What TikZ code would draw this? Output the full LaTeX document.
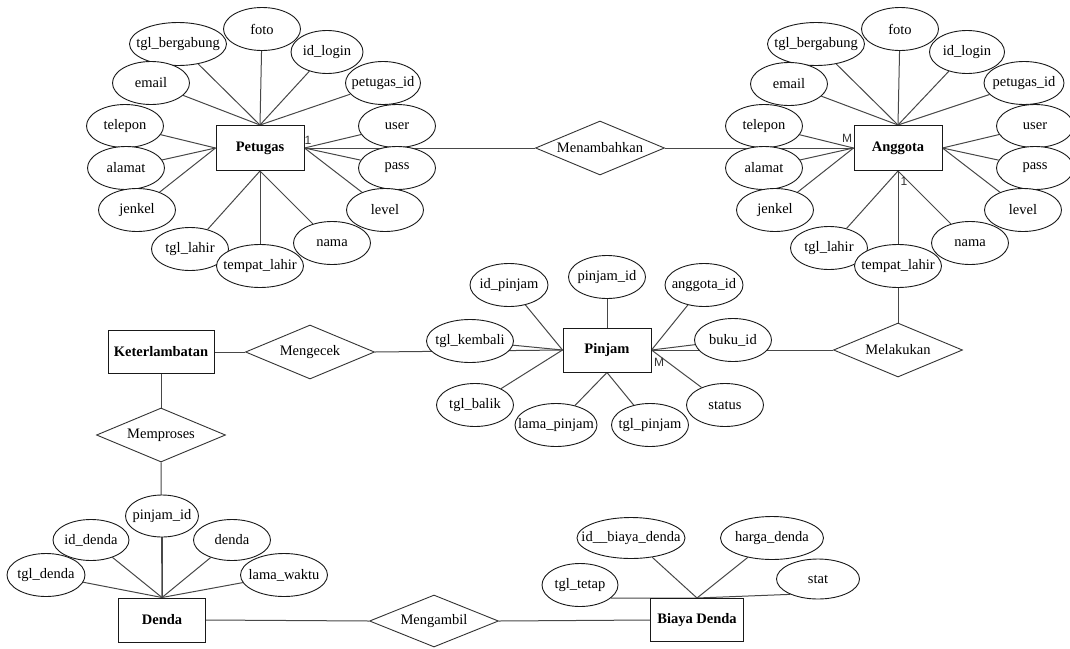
\documentclass[tikz,border=0pt]{standalone}
\usepackage{fontspec}
\setmainfont{Liberation Serif}
\newfontfamily\lblfont{Liberation Sans}
\usetikzlibrary{shapes.geometric,backgrounds}
\newcommand\zt[1]{\makebox[0pt]{#1}}
\begin{document}
\begin{tikzpicture}[x=1pt,y=-1pt,
  conn/.style={draw=black!72, line width=1pt},
  attr/.style={ellipse, draw=black!90, line width=0.9pt, fill=white, minimum height=43pt, minimum width=77pt, inner sep=0pt, font=\fontsize{14.5}{16}\selectfont},
  ent/.style={rectangle, draw=black!90, line width=1pt, fill=white, minimum height=45pt, inner sep=0pt, font=\fontsize{14.5}{16}\selectfont\bfseries},
  rel/.style={diamond, draw=black!80, line width=0.9pt, fill=white, minimum width=129pt, minimum height=54pt, inner sep=0pt, font=\fontsize{14.5}{16}\selectfont},
  card/.style={font=\lblfont\fontsize{12}{13}\selectfont, inner sep=0pt, text=black!80}]
\useasboundingbox (0,0) rectangle (1070,648);

% ---------- entities ----------
\node[ent, minimum width=88pt] (pet) at (260,148) {Petugas};
\node[ent, minimum width=88pt] (ang) at (898,148) {Anggota};
\node[ent, minimum width=88pt, minimum height=44pt] (pin) at (607,350) {Pinjam};
\node[ent, minimum width=106pt, minimum height=43pt] (ket) at (161,352) {Keterlambatan};
\node[ent, minimum width=87pt, minimum height=44pt] (den) at (162,620) {Denda};
\node[ent, minimum width=93pt, minimum height=43pt] (bia) at (697,620) {Biaya Denda};

% ---------- relationships ----------
\node[rel] (men) at (600,148) {\zt{Menambahkan}};
\node[rel] (cek) at (310,352) {\zt{Mengecek}};
\node[rel] (pro) at (161,435) {\zt{Memproses}};
\node[rel] (lak) at (898,350) {\zt{Melakukan}};
\node[rel, minimum height=52pt] (amb) at (434,621) {\zt{Mengambil}};

% ---------- Petugas attributes ----------
\node[attr, minimum width=97pt] (p2) at (178,44) {\zt{tgl\_bergabung}};
\node[attr] (p1) at (262,29) {\zt{foto}};
\node[attr, minimum width=72pt] (p3) at (327,52) {\zt{id\_login}};
\node[attr] (p4) at (151,83) {\zt{email}};
\node[attr, minimum width=75pt] (p5) at (383,83) {\zt{petugas\_id}};
\node[attr] (p6) at (125,126) {\zt{telepon}};
\node[attr] (p7) at (397,126) {\zt{user}};
\node[attr] (p8) at (126,168) {\zt{alamat}};
\node[attr] (p9) at (397,168) {\zt{pass}};
\node[attr] (p10) at (137,210) {\zt{jenkel}};
\node[attr] (p11) at (385,210) {\zt{level}};
\node[attr] (p12) at (190,249) {\zt{tgl\_lahir}};
\node[attr] (p13) at (332,243) {\zt{nama}};
\node[attr, minimum width=87pt] (p14) at (260,266) {\zt{tempat\_lahir}};

% ---------- Anggota attributes ----------
\node[attr, minimum width=97pt] (a2) at (816,44) {\zt{tgl\_bergabung}};
\node[attr] (a1) at (900,29) {\zt{foto}};
\node[attr, minimum width=75pt] (a3) at (967,52) {\zt{id\_login}};
\node[attr] (a4) at (789,84) {\zt{email}};
\node[attr, minimum width=80pt] (a5) at (1024,83) {\zt{petugas\_id}};
\node[attr] (a6) at (764,126) {\zt{telepon}};
\node[attr] (a7) at (1035,126) {\zt{user}};
\node[attr] (a8) at (764,168) {\zt{alamat}};
\node[attr] (a9) at (1035,168) {\zt{pass}};
\node[attr] (a10) at (775,210) {\zt{jenkel}};
\node[attr] (a11) at (1023,210) {\zt{level}};
\node[attr] (a12) at (829,248) {\zt{tgl\_lahir}};
\node[attr] (a13) at (970,243) {\zt{nama}};
\node[attr, minimum width=87pt] (a14) at (898,266) {\zt{tempat\_lahir}};

% ---------- Pinjam attributes ----------
\node[attr, minimum width=78pt] (j1) at (509,285) {\zt{id\_pinjam}};
\node[attr] (j2) at (607,277) {\zt{pinjam\_id}};
\node[attr, minimum width=78pt] (j3) at (704,285) {\zt{anggota\_id}};
\node[attr, minimum width=87pt] (j4) at (470,341) {\zt{tgl\_kembali}};
\node[attr] (j5) at (733,340) {\zt{buku\_id}};
\node[attr] (j6) at (475,405) {\zt{tgl\_balik}};
\node[attr] (j7) at (725,405) {\zt{status}};
\node[attr, minimum width=82pt] (j8) at (556,425) {\zt{lama\_pinjam}};
\node[attr] (j9) at (650,425) {\zt{tgl\_pinjam}};

% ---------- Denda attributes ----------
\node[attr, minimum width=76pt, minimum height=41pt] (d2) at (91,540) {\zt{id\_denda}};
\node[attr, minimum width=77pt, minimum height=41pt] (d4) at (232,540) {\zt{denda}};
\node[attr, minimum width=73pt, minimum height=42pt] (d1) at (162,516) {\zt{pinjam\_id}};
\node[attr, minimum width=78pt] (d3) at (46,575) {\zt{tgl\_denda}};
\node[attr, minimum width=87pt] (d5) at (284,575) {\zt{lama\_waktu}};

% ---------- Biaya Denda attributes ----------
\node[attr, minimum width=108pt, minimum height=41pt] (b1) at (631,538) {\zt{id\_\_biaya\_denda}};
\node[attr, minimum width=103pt] (b2) at (772,538) {\zt{harga\_denda}};
\node[attr, minimum width=76pt] (b3) at (580,585) {\zt{tgl\_tetap}};
\node[attr, minimum width=83pt, minimum height=40pt] (b4) at (818,579) {\zt{stat}};

% ---------- cardinality labels ----------
\node[card] (c1) at (308,140) {1};
\node[card] (c2) at (847,138) {M};
\node[card] (c3) at (904,181) {1};
\node[card] (c4) at (659,362) {M};

% ---------- connectors ----------
\begin{pgfonlayer}{background}
% relationships
\draw[conn] (pet.east) -- (men.west);
\draw[conn] (men.east) -- (ang.west);
\draw[conn] (ang.south) -- (lak.north);
\draw[conn] (lak.west) -- (pin.east);
\draw[conn] (ket.east) -- (cek.west);
\draw[conn] (cek.east) -- (pin.west);
\draw[conn] (ket.south) -- (pro.north);
\draw[conn] (pro.south) -- (den.north);
\draw[conn] (den.east) -- (amb.west);
\draw[conn] (amb.east) -- (bia.west);
% Petugas
\foreach \n in {p1,p2,p3,p4,p5} \draw[conn] (\n) -- (pet.north);
\foreach \n in {p6,p8,p10} \draw[conn] (\n) -- (pet.west);
\foreach \n in {p7,p9,p11} \draw[conn] (\n) -- (pet.east);
\foreach \n in {p12,p13,p14} \draw[conn] (\n) -- (pet.south);
% Anggota
\foreach \n in {a1,a2,a3,a4,a5} \draw[conn] (\n) -- (ang.north);
\foreach \n in {a6,a8,a10} \draw[conn] (\n) -- (ang.west);
\foreach \n in {a7,a9,a11} \draw[conn] (\n) -- (ang.east);
\foreach \n in {a12,a13,a14} \draw[conn] (\n) -- (ang.south);
% Pinjam
\draw[conn] (j2) -- (pin.north);
\foreach \n in {j1,j4,j6} \draw[conn] (\n) -- (pin.west);
\foreach \n in {j3,j5,j7} \draw[conn] (\n) -- (pin.east);
\foreach \n in {j8,j9} \draw[conn] (\n) -- (pin.south);
% Denda
\foreach \n in {d1,d2,d3,d4,d5} \draw[conn] (\n) -- (den.north);
% Biaya Denda
\foreach \n in {b1,b2} \draw[conn] (\n) -- (bia.north);
\draw[conn] (b3.-23) -- (bia.north);
\draw[conn] (b4.209) -- (bia.north);
\end{pgfonlayer}
\end{tikzpicture}
\end{document}
